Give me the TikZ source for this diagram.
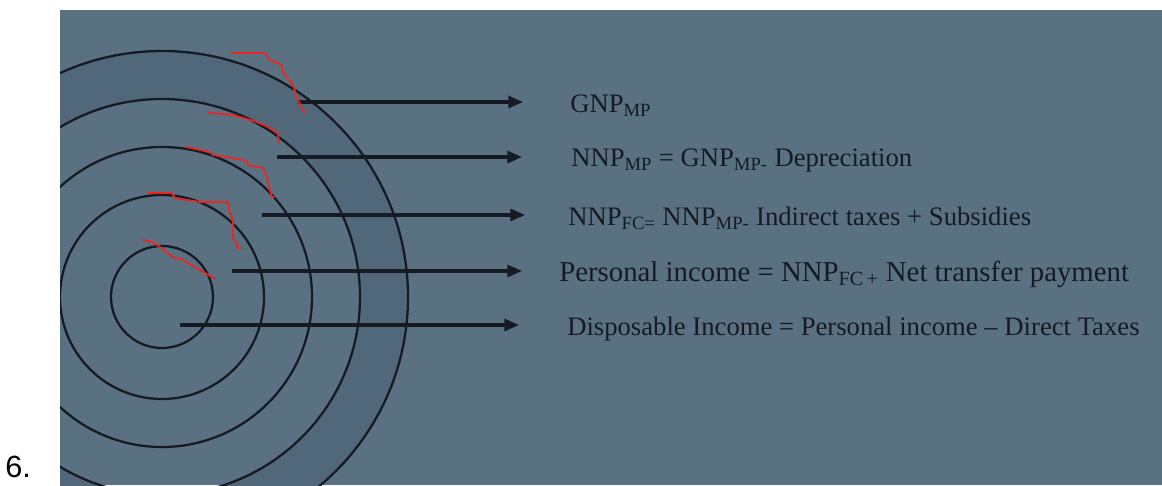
\documentclass[tikz,border=0pt]{standalone}
\usepackage{fontspec}
\setmainfont{Liberation Serif}
\newfontfamily\labelfont{Liberation Sans}
\usetikzlibrary{arrows.meta}
\definecolor{PhotoBlue}{HTML}{5A7182}
\definecolor{RingShade}{HTML}{51687A}
\definecolor{InkBlack}{HTML}{161A22}
\definecolor{PenRed}{HTML}{EE2420}
\newcommand{\sbs}[1]{\textsubscript{#1}}

\begin{document}
\begin{tikzpicture}[
  x=0.75pt, y=-0.75pt,
  ring/.style={draw=InkBlack, line width=1.7pt},
  arr/.style={-{Triangle[length=11pt, width=9pt]}, line width=2.3pt, color=InkBlack},
  eqn/.style={anchor=base west, inner sep=0pt, text=InkBlack,
    font=\fontsize{20}{24}\selectfont},
  pen/.style={draw=PenRed, line width=1.3pt, line join=round, line cap=round},
]
\useasboundingbox (0,0) rectangle (1162,485);

% Page and photo
\fill[white] (0,0) rectangle (1162,485);
\fill[PhotoBlue] (60,10) rectangle (1162,485);
\node[anchor=base west, inner sep=0pt, font=\labelfont\fontsize{23}{23}\selectfont] (num) at (5,477) {6.};

% Circles
\coordinate (c) at (162,297);
\begin{scope}
  \clip (60,10) rectangle (1162,485);
  \fill[RingShade, even odd rule] (c) circle[radius=184.5pt] (c) circle[radius=148.5pt];
  \draw[ring] (c) circle[radius=38.25pt];
  \draw[ring] (c) circle[radius=76.5pt];
  \draw[ring] (c) circle[radius=112.5pt];
  \draw[ring] (c) circle[radius=148.5pt];
  \draw[ring] (c) circle[radius=184.5pt];
\end{scope}

% Arrow ends
\coordinate (a1) at (298,102);  \coordinate (t1) at (523,102);
\coordinate (a2) at (277,157);  \coordinate (t2) at (522,157);
\coordinate (a3) at (262,215);  \coordinate (t3) at (525,215);
\coordinate (a4) at (232,271);  \coordinate (t4) at (522,271);
\coordinate (a5) at (180,325);  \coordinate (t5) at (519,325);

% Equations
\node[eqn] (gnp) at (570,112) {GNP\sbs{MP}};
\node[eqn] (nnpmp) at (571,166) {NNP\sbs{MP} = GNP\sbs{MP-} Depreciation};
\node[eqn] (nnpfc) at (568,225) {NNP\sbs{FC=} NNP\sbs{MP-} Indirect taxes + Subsidies};
\node[eqn, font=\fontsize{21.6}{26}\selectfont] (pi) at (559,281) {Personal income = NNP\sbs{FC\,+} Net transfer payment};
\node[eqn] (di) at (567,335) {Disposable Income = Personal income -- Direct Taxes};

% Arrows
\draw[arr] (a1) -- (t1);
\draw[arr] (a2) -- (t2);
\draw[arr] (a3) -- (t3);
\draw[arr] (a4) -- (t4);
\draw[arr] (a5) -- (t5);

% Red pen marks
\draw[pen] (232,53) -- (265,53) -- (270,60) -- (282,65) -- (283,72) -- (293,85) -- (298,100) -- (305,113);
\draw[pen] (208,112) -- (210,113) -- (233,115) -- (257,122) -- (270,128) -- (278,133) -- (279,143);
\draw[pen] (186,147) -- (210,152) -- (213,155) -- (238,159) -- (247,161) -- (248,165) -- (263,168) -- (267,177) -- (270,190) -- (272,197) -- (274,197);
\draw[pen] (148,193) -- (172,193) -- (175,198) -- (200,202) -- (228,202) -- (230,213) -- (233,220) -- (233,238) -- (237,243) -- (237,248) -- (241,248);
\draw[pen] (143,240) -- (153,242) -- (160,247) -- (173,257) -- (183,260) -- (200,270) -- (212,277) -- (215,279);

\end{tikzpicture}
\end{document}
